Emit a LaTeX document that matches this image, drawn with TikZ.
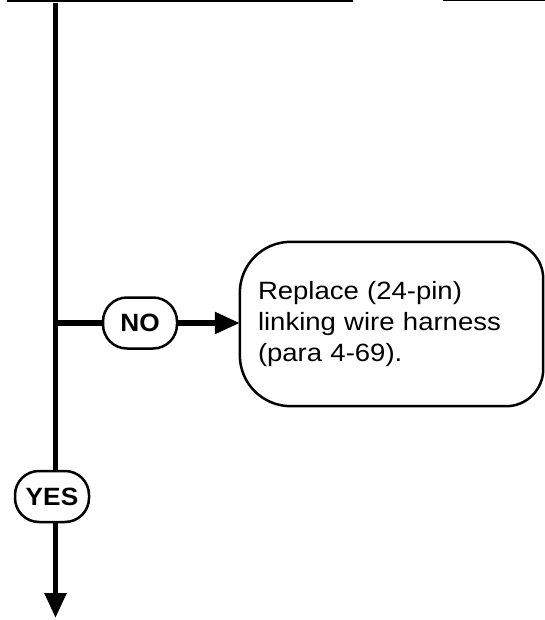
\documentclass[tikz,border=0pt]{standalone}
\usepackage{fontspec}
\usetikzlibrary{arrows.meta}
\newfontfamily\labfont[FakeStretch=1.1]{Liberation Sans}
\newfontfamily\ovalfont[FakeStretch=1.05]{Liberation Sans}
\begin{document}
\begin{tikzpicture}[x=1pt,y=-1pt,
  flowline/.style={line width=5.5pt},
  oval/.style={draw, line width=2.5pt, rounded corners=24pt, minimum width=74pt, minimum height=51pt, inner sep=0pt,
    font=\ovalfont\bfseries\fontsize{25}{27}\selectfont},
  actbox/.style={minimum width=303pt, minimum height=164pt,
    inner xsep=18pt, inner ysep=0pt, text width=267pt, align=left,
    font=\labfont\fontsize{25}{31}\selectfont},
  boxline/.style={line width=2.5pt},
  cutbox/.style={draw, line width=3pt, inner sep=0pt},
  tip/.style={-{Triangle[length=25pt,width=21pt]}}
]
\useasboundingbox (0,0) rectangle (544,620);
% partially visible boxes at the top
\node[cutbox, minimum width=343pt, minimum height=60pt, anchor=south west] (prev) at (7,2) {};
\node[cutbox, minimum width=120pt, minimum height=60pt, anchor=south west] (other) at (443,1) {};
% decision labels and action box
\node[oval] (no) at (140,323) {NO};
\node[oval] (yes) at (52,496.5) {YES};
\node[actbox] (act) at (391.5,324) {Replace (24-pin)\\linking wire harness\\(para 4-69).};
\draw[boxline] (act.north) [rounded corners=37pt] -- (act.north east) -- (act.south east) -- (act.south)
  [rounded corners=51pt] -- (act.south west) -- (act.north west) -- cycle;
\coordinate (top) at (55.5,3);
\coordinate (branch) at (55.5,323);
\coordinate (bottom) at (55.5,618);
% connectors
\draw[flowline] (top) -- (branch);
\draw[flowline] (branch) -- (yes.north -| branch);
\draw[flowline] (branch) -- (no.west);
\draw[flowline, tip] (no.east) -- (no.east -| act.west);
\draw[flowline, tip] (yes.south -| bottom) -- (bottom);
\end{tikzpicture}
\end{document}
